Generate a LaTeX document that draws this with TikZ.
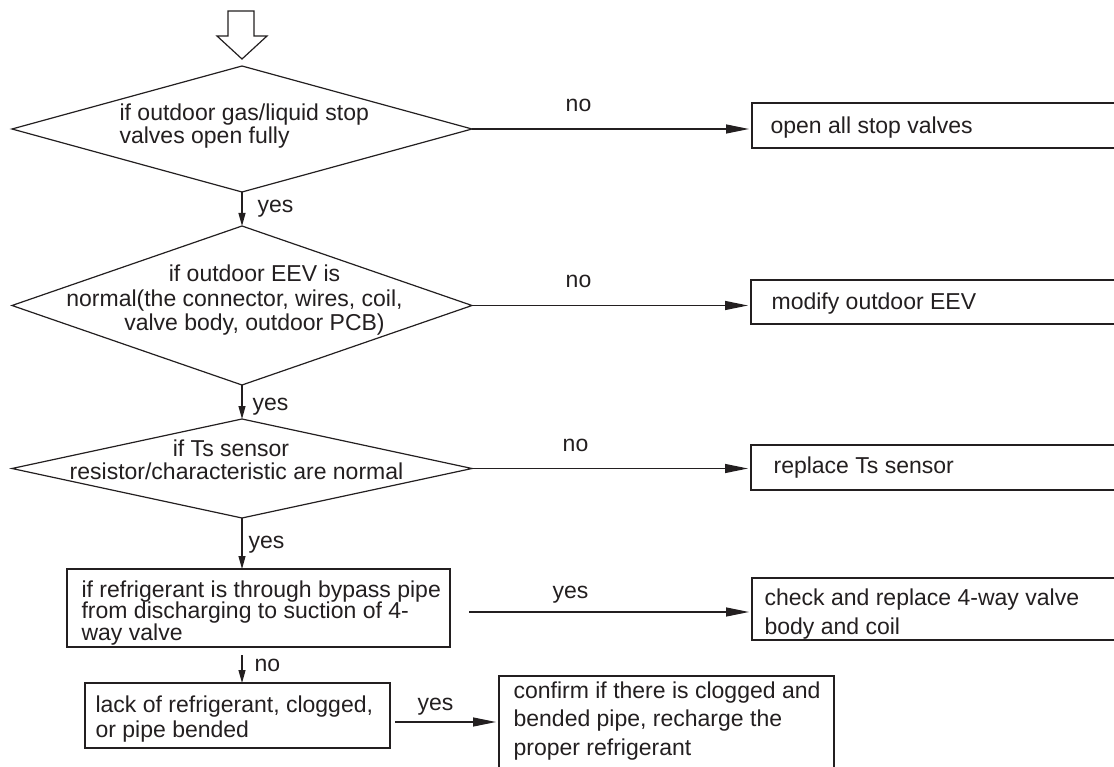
\documentclass[tikz,border=0pt]{standalone}
\usepackage{fontspec}
\setmainfont{Liberation Sans}
\usetikzlibrary{arrows.meta,shapes.geometric,calc}
\definecolor{ink}{RGB}{35,31,32}
\newcommand\mylinesL[2]{\vtop{\baselineskip=#1pt\lineskiplimit=-100pt\halign{##\hfil\cr#2\crcr}}}
\newcommand\mylinesC[2]{\vtop{\baselineskip=#1pt\lineskiplimit=-100pt\halign{\hfil##\hfil\cr#2\crcr}}}
\begin{document}
\begin{tikzpicture}[x=1pt,y=-1pt,
  font=\fontsize{23}{23}\selectfont,
  line width=1.2pt, draw=ink, text=ink,
  dia/.style={draw=ink, shape=diamond, inner sep=0pt, outer sep=0pt, minimum width=460pt, minimum height=#1},
  rbox/.style={draw=ink, rectangle, inner sep=0pt, outer sep=0pt},
  lbl/.style={inner sep=0pt, anchor=base west},
  clbl/.style={inner sep=0pt, anchor=base},
  harr/.style={draw=ink, -{Triangle[length=23pt,width=9pt]}, shorten >=3pt},
  varr/.style={draw=ink, -{Triangle[length=13pt,width=7pt]}}]
\useasboundingbox (0,0) rectangle (1114,767);
\fill[white] (0,0) rectangle (1114,767);
\clip (0,0) rectangle (1114,767);

% entry arrow
\draw[ink] (228,11) -- (254,11) -- (254,36) -- (267,36) -- (242,59) -- (217,36) -- (228,36) -- cycle;

% decisions
\node[dia=126pt] (d1) at (242,129) {};
\node[dia=159pt] (d2) at (242,305.5) {};
\node[dia=99pt]  (d3) at (242,468.5) {};

\node[lbl] (t1) at (119,121) {\mylinesL{23}{if outdoor gas/liquid stop\cr valves open fully}};
\node[clbl] (t2) at (234.5,282) {\mylinesC{24.5}{\kern40pt if outdoor EEV is\cr normal(the connector, wires, coil,\cr \kern40pt valve body, outdoor PCB)}};
\node[clbl] (t3) at (236.5,456) {\mylinesC{23.5}{if Ts sensor\kern11pt\cr resistor/characteristic are normal}};

% boxes
\node[rbox, minimum width=378pt, minimum height=45pt] (open) at (941,125.5) {};
\node[rbox, minimum width=379pt, minimum height=44pt] (mod)  at (940.5,302) {};
\node[rbox, minimum width=379pt, minimum height=45pt] (rep)  at (940.5,467.5) {};
\node[rbox, minimum width=378pt, minimum height=62pt] (chk)  at (941,609) {};
\node[rbox, minimum width=335pt, minimum height=124pt] (conf) at (666.5,738) {};
\node[rbox, minimum width=383pt, minimum height=78pt] (b1)   at (258.5,608) {};
\node[rbox, minimum width=305pt, minimum height=65pt] (lack) at (237.5,715.5) {};

\node[lbl] (topen) at (770,134) {open all stop valves};
\node[lbl] (tmod)  at (771,310) {modify outdoor EEV};
\node[lbl] (trep)  at (773,473) {replace Ts sensor};
\node[lbl] (tchk)  at (764,605) {\mylinesL{29}{check and replace 4-way valve\cr body and coil}};
\node[lbl] (tconf) at (513,698) {\mylinesL{28.5}{confirm if there is clogged and\cr bended pipe, recharge the\cr proper refrigerant}};
\node[lbl] (tb1)   at (81,597) {\mylinesL{21.5}{if refrigerant is through bypass pipe\cr from discharging to suction of 4-\cr way valve}};
\node[lbl] (tlack) at (95,712) {\mylinesL{25}{lack of refrigerant, clogged,\cr or pipe bended}};

% connectors
\draw[harr] (d1.east) -- (d1.east -| open.west);
\draw[harr] (d2.east) -- (d2.east -| mod.west);
\draw[harr] (d3.east) -- (d3.east -| rep.west);
\draw[varr] (d1.south) -- (d2.north);
\draw[varr] (d2.south) -- (d3.north);
\draw[varr] (d3.south) -- (d3.south |- b1.north);
\coordinate (c1) at ($(b1.south -| d3.south)+(0,8)$);
\draw[varr] (c1) -- (c1 |- lack.north);
\coordinate (c2) at ($(b1.east)+(19,4)$);
\draw[harr] (c2) -- (c2 -| chk.west);
\coordinate (c3) at ($(lack.east)+(5,6.5)$);
\draw[harr] (c3) -- (c3 -| conf.west);

% connector labels
\node[clbl] (n1) at (578.5,112) {no};
\node[clbl] (n2) at (578.5,288) {no};
\node[clbl] (n3) at (575.5,451) {no};
\node[lbl]  (y1) at (257,213) {yes};
\node[lbl]  (y2) at (252,410) {yes};
\node[lbl]  (y3) at (248,548) {yes};
\node[lbl]  (n4) at (254,671) {no};
\node[clbl] (y5) at (570.5,598) {yes};
\node[clbl] (y6) at (435.5,710) {yes};
\end{tikzpicture}
\end{document}
